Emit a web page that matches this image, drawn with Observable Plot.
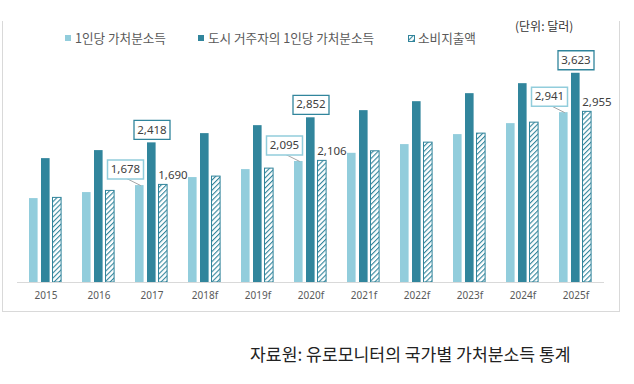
<!DOCTYPE html>
<html>
<head>
<meta charset="utf-8">
<script src="https://cdn.jsdelivr.net/npm/d3@7"></script>
<script src="https://cdn.jsdelivr.net/npm/@observablehq/plot@0.6"></script>
<style>
  html, body { margin: 0; padding: 0; background: #fff; }
  body { font-family: "Noto Sans", "Noto Sans CJK KR", sans-serif; }
  #wrap { position: relative; width: 634px; height: 384px; overflow: hidden; }
  #frame { position: absolute; left: 2px; top: 21px; width: 616px; height: 290px;
           border-left: 1px solid #d9d9d9; border-right: 1px solid #d9d9d9; border-bottom: 1px solid #d9d9d9; }
  #chart { position: absolute; left: 0; top: 40px; }
  .leg { position: absolute; top: 30px; height: 16px; line-height: 16px; font-size: 12.6px; color: #595959;
         display: flex; align-items: center; font-family: "Noto Sans CJK KR", sans-serif; white-space: nowrap; }
  .sw { width: 6px; height: 6px; margin-right: 4px; display: inline-block; }
  #unit { position: absolute; left: 515px; top: 18px; font-size: 12px; color: #333; line-height: 16px;
          font-family: "Noto Sans CJK KR", sans-serif; white-space: nowrap; }
  #caption { position: absolute; left: 250px; top: 343px; font-size: 17.2px; line-height: 22px; color: #222;
             font-family: "Noto Sans CJK KR", sans-serif; white-space: nowrap; }
</style>
</head>
<body>
<svg width="0" height="0" style="position:absolute">
  <defs>
    <pattern id="hatch" patternUnits="userSpaceOnUse" width="3.6" height="3.6" patternTransform="rotate(45)">
      <rect width="3.6" height="3.6" fill="#ffffff"></rect>
      <line x1="0" y1="0" x2="0" y2="3.6" stroke="#31849b" stroke-width="2.2"></line>
    </pattern>
  </defs>
</svg>
<div id="wrap">
  <div id="frame"></div>
  <div id="unit">(단위: 달러)</div>
  <div id="legend"></div>
  <div id="chart"></div>
  <div id="caption">자료원: 유로모니터의 국가별 가처분소득 통계</div>
</div>
<script>
// ---- data ----
const years = ["2015","2016","2017","2018f","2019f","2020f","2021f","2022f","2023f","2024f","2025f"];
const perCapita = [1453,1557,1678,1817,1955,2095,2237,2388,2561,2751,2941];
const urbanPerCapita = [2145,2284,2418,2578,2716,2852,2976,3131,3270,3443,3623];
const spending = [1465,1586,1690,1834,1972,2106,2272,2422,2578,2768,2955];
const seriesNames = ["1인당 가처분소득", "도시 거주자의 1인당 가처분소득", "소비지출액"];
const labelYears = ["2017","2020f","2025f"];

// ---- style ----
const LIGHT = "#92cddc", DARK = "#31859c", HATCH_STROKE = "#31849b";

const table = years.map((y, i) => ({year: y, a: perCapita[i], b: urbanPerCapita[i], c: spending[i]}));
const labeled = table.filter(d => labelYears.includes(d.year));
const fmt = d3.format(",");

// legend
const legendPos = [65, 198, 408];
const legendFill = [LIGHT, DARK, "hatch"];
const legend = document.getElementById("legend");
seriesNames.forEach((name, i) => {
  const item = document.createElement("div");
  item.className = "leg";
  item.style.left = legendPos[i] + "px";
  let sw;
  if (legendFill[i] === "hatch") {
    sw = `<svg width="7" height="7" style="margin-right:3px"><rect x="0.5" y="0.5" width="6" height="6" fill="url(#hatch)" stroke="${HATCH_STROKE}" stroke-width="1"></rect></svg>`;
  } else {
    sw = `<span class="sw" style="background:${legendFill[i]}"></span>`;
  }
  item.innerHTML = sw + `<span>${name}</span>`;
  legend.appendChild(item);
});

const boxSymbol = { draw(ctx) { ctx.rect(-18, -9.5, 36, 19); } };
const leaderSymbol = { draw(ctx) { ctx.moveTo(-13, -7); ctx.lineTo(1, 0); } };

const chart = Plot.plot({
  width: 634,
  height: 270,
  marginLeft: 17,
  marginRight: 30,
  marginTop: 11,
  marginBottom: 28,
  style: { fontFamily: "'Noto Sans', 'Noto Sans CJK KR', sans-serif", fontSize: "10px", color: "#595959", background: "transparent" },
  x: { domain: years, padding: 0, label: null, tickSize: 0, tickPadding: 9 },
  y: { domain: [0, 4000], axis: null },
  marks: [
    Plot.barY(table, {x: "year", y: "a", fill: LIGHT, insetLeft: 10, insetRight: 34.4}),
    Plot.barY(table, {x: "year", y: "b", fill: DARK, insetLeft: 22, insetRight: 22.4}),
    Plot.barY(table, {x: "year", y: "c", fill: "url(#hatch)", stroke: HATCH_STROKE, strokeWidth: 1, insetLeft: 33.5, insetRight: 10.9}),
    Plot.ruleY([0], {stroke: "#d9d9d9", strokeWidth: 1.2}),
    Plot.dot(labeled, {x: "year", y: "a", dx: -12.2, symbol: leaderSymbol, fill: "none", stroke: "#a6a6a6", strokeWidth: 1}),
    Plot.dot(labeled, {x: "year", y: "a", dx: -26.5, dy: -16, symbol: boxSymbol, fill: "#fff", stroke: LIGHT, strokeWidth: 1.5}),
    Plot.text(labeled, {x: "year", y: "a", dx: -26.5, dy: -16, text: d => fmt(d.a), fill: "#404040", fontSize: 11.5}),
    Plot.dot(labeled, {x: "year", y: "b", dy: -13, symbol: boxSymbol, fill: "#fff", stroke: DARK, strokeWidth: 1.3}),
    Plot.text(labeled, {x: "year", y: "b", dy: -13, text: d => fmt(d.b), fill: "#404040", fontSize: 11.5}),
    Plot.text(labeled, {x: "year", y: "c", dx: 21, dy: -10, text: d => fmt(d.c), fill: "#404040", fontSize: 11.5})
  ]
});
document.getElementById("chart").appendChild(chart);
</script>
</body>
</html>
